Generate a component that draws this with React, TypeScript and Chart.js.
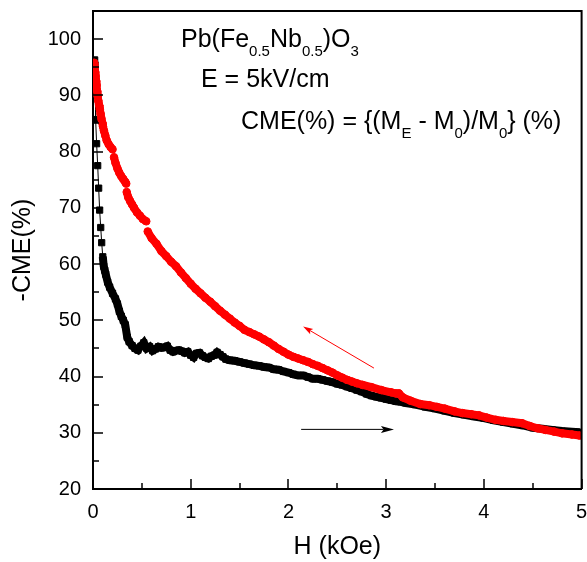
import { useEffect, useRef } from 'react';
import { Chart, registerables } from 'chart.js';

Chart.register(...registerables);

const FONT = '"Liberation Sans", Arial, Helvetica, sans-serif';

// Axis ticks
const xTicks = [0, 1, 2, 3, 4, 5];
const xMinorTicks = [0.5, 1.5, 2.5, 3.5, 4.5];
const yTicks = [20, 30, 40, 50, 60, 70, 80, 90, 100];
const yMinorTicks = [25, 35, 45, 55, 65, 75, 85, 95];

// Increasing-field sweep (black squares)
const blackH = [
  0.017, 0.021, 0.027, 0.037, 0.048, 0.058, 0.068, 0.079, 0.089, 0.100,
  0.110, 0.120, 0.130, 0.150, 0.170, 0.200, 0.230, 0.250, 0.270, 0.290,
  0.310, 0.330, 0.350, 0.370, 0.400, 0.430, 0.460, 0.490, 0.520, 0.550,
  0.580, 0.610, 0.640, 0.670, 0.700, 0.730, 0.760, 0.790, 0.820, 0.850,
  0.880, 0.910, 0.940, 0.970, 1.000, 1.030, 1.060, 1.090, 1.120, 1.150,
  1.180, 1.210, 1.240, 1.270, 1.300, 1.330, 1.360, 1.400, 1.450, 1.500,
  1.550, 1.600, 1.650, 1.700, 1.750, 1.800, 1.850, 1.900, 1.950, 2.000,
  2.050, 2.100, 2.150, 2.200, 2.250, 2.300, 2.350, 2.400, 2.450, 2.500,
  2.550, 2.600, 2.650, 2.700, 2.750, 2.800, 2.850, 2.900, 2.950, 3.000,
  3.050, 3.100, 3.150, 3.200, 3.300, 3.400, 3.500, 3.600, 3.700, 3.800,
  3.900, 4.000, 4.100, 4.200, 4.300, 4.400, 4.500, 4.600, 4.700, 4.800,
  4.900, 4.980,
];
const blackCME = [
  96.3, 95.4, 85.7, 81.4, 77.5, 73.5, 69.6, 66.5, 63.8, 61.3,
  59.6, 58.9, 58.2, 56.8, 55.9, 54.8, 53.8, 52.9, 51.6, 50.7,
  50.0, 49.2, 47.0, 46.2, 45.5, 45.0, 44.7, 45.4, 46.0, 45.0,
  45.3, 44.6, 44.9, 45.3, 45.1, 45.2, 45.4, 44.7, 44.4, 44.6,
  44.7, 44.5, 44.2, 44.4, 43.8, 43.4, 44.1, 44.2, 43.7, 43.4,
  43.2, 43.6, 43.8, 44.3, 43.9, 43.5, 43.1, 42.9, 42.8, 42.6,
  42.4, 42.2, 42.0, 41.9, 41.7, 41.6, 41.3, 41.2, 40.9, 40.7,
  40.4, 40.2, 40.2, 39.9, 39.6, 39.6, 39.4, 39.2, 39.0, 38.7,
  38.5, 38.2, 37.9, 37.6, 37.3, 36.9, 36.6, 36.4, 36.2, 36.0,
  35.8, 35.6, 35.5, 35.3, 35.0, 34.6, 34.3, 33.9, 33.5, 33.2,
  32.9, 32.6, 32.2, 31.9, 31.6, 31.3, 30.9, 30.7, 30.5, 30.3,
  30.2, 30.1,
];

// Decreasing-field sweep (red circles)
const redH = [
  0.012, 0.017, 0.022, 0.027, 0.032, 0.037, 0.042, 0.048, 0.055, 0.062,
  0.070, 0.078, 0.086, 0.094, 0.102, 0.112, 0.125, 0.140, 0.160, 0.180,
  0.200, 0.215, 0.230, 0.250, 0.270, 0.290, 0.310, 0.330, 0.340, 0.345,
  0.360, 0.380, 0.400, 0.420, 0.450, 0.480, 0.510, 0.545, 0.560, 0.600,
  0.650, 0.700, 0.750, 0.800, 0.850, 0.900, 0.950, 1.000, 1.050, 1.100,
  1.150, 1.200, 1.250, 1.300, 1.350, 1.400, 1.450, 1.500, 1.550, 1.600,
  1.650, 1.700, 1.750, 1.800, 1.850, 1.900, 1.950, 2.000, 2.050, 2.100,
  2.150, 2.200, 2.250, 2.300, 2.350, 2.400, 2.450, 2.500, 2.550, 2.600,
  2.650, 2.700, 2.760, 2.850, 2.950, 3.050, 3.100, 3.130, 3.170, 3.250,
  3.350, 3.440, 3.520, 3.600, 3.700, 3.780, 3.870, 3.950, 4.030, 4.120,
  4.200, 4.290, 4.390, 4.470, 4.550, 4.630, 4.720, 4.800, 4.900, 4.980,
];
const redCME = [
  95.8, 95.0, 94.2, 93.4, 92.6, 91.8, 90.8, 89.9, 89.0, 88.3,
  87.5, 86.7, 85.9, 85.2, 84.5, 83.7, 82.9, 82.0, 81.3, 80.8,
  80.4, 79.0, 78.0, 77.0, 76.2, 75.6, 75.1, 74.6, 74.3, 72.8,
  71.9, 71.2, 70.6, 70.0, 69.2, 68.6, 68.0, 67.6, 65.8, 64.6,
  63.6, 62.3, 61.4, 60.4, 59.6, 58.5, 57.5, 56.5, 55.6, 54.8,
  54.0, 53.3, 52.5, 51.7, 51.0, 50.3, 49.6, 49.0, 48.3, 47.9,
  47.5, 47.1, 46.6, 46.1, 45.5, 44.9, 44.4, 43.9, 43.5, 43.2,
  42.9, 42.6, 42.2, 41.9, 41.5, 41.1, 40.7, 40.2, 39.8, 39.4,
  39.1, 38.8, 38.5, 38.1, 37.6, 37.2, 37.0, 37.0, 36.3, 35.7,
  35.1, 34.9, 34.6, 34.3, 33.8, 33.5, 33.3, 33.1, 32.7, 32.3,
  32.1, 31.9, 31.7, 31.2, 30.8, 30.5, 30.2, 29.9, 29.7, 29.5,
];

// Sweep-direction arrows, in data coordinates [H, -CME]
const redArrowFrom = [2.875, 41.5];
const redArrowTo = [2.15, 48.9];
const blackArrowFrom = [2.13, 30.6];
const blackArrowTo = [3.08, 30.6];

// Annotation text: [text, isSubscript]
const line1: [string, boolean][] = [['Pb(Fe', false], ['0.5', true], ['Nb', false], ['0.5', true], [')O', false], ['3', true]];
const line2: [string, boolean][] = [['E = 5kV/cm', false]];
const line3: [string, boolean][] = [
  ['CME(%) = {(M', false], ['E', true], [' - M', false], ['0', true], [')/M', false], ['0', true], ['} (%)', false],
];

function drawRich(ctx: CanvasRenderingContext2D, x: number, y: number, parts: [string, boolean][]) {
  let cx = x;
  ctx.textBaseline = 'alphabetic';
  ctx.textAlign = 'left';
  ctx.fillStyle = '#000';
  for (const [t, sub] of parts) {
    ctx.font = sub ? `15px ${FONT}` : `25px ${FONT}`;
    ctx.fillText(t, cx, sub ? y + 9.5 : y);
    cx += ctx.measureText(t).width;
  }
}

function drawArrow(ctx: CanvasRenderingContext2D, x0: number, y0: number, x1: number, y1: number, color: string, headLen: number, headHalf: number) {
  const ang = Math.atan2(y1 - y0, x1 - x0);
  ctx.save();
  ctx.strokeStyle = color;
  ctx.fillStyle = color;
  ctx.lineWidth = 1;
  ctx.beginPath();
  ctx.moveTo(x0, y0);
  ctx.lineTo(x1 - Math.cos(ang) * headLen * 0.8, y1 - Math.sin(ang) * headLen * 0.8);
  ctx.stroke();
  ctx.beginPath();
  ctx.moveTo(x1, y1);
  ctx.lineTo(x1 - Math.cos(ang) * headLen - Math.sin(ang) * headHalf, y1 - Math.sin(ang) * headLen + Math.cos(ang) * headHalf);
  ctx.lineTo(x1 - Math.cos(ang) * headLen * 0.8, y1 - Math.sin(ang) * headLen * 0.8);
  ctx.lineTo(x1 - Math.cos(ang) * headLen + Math.sin(ang) * headHalf, y1 - Math.sin(ang) * headLen - Math.cos(ang) * headHalf);
  ctx.closePath();
  ctx.fill();
  ctx.restore();
}

const decorPlugin = {
  id: 'decor',
  afterDatasetsDraw(chart: any) {
    const { ctx, chartArea, scales } = chart;
    const xs = scales.x;
    const ys = scales.y;
    const { left, right, top, bottom } = chartArea;
    ctx.save();
    // frame
    ctx.strokeStyle = '#000';
    ctx.lineWidth = 2;
    ctx.beginPath();
    ctx.moveTo(left, top);
    ctx.lineTo(right, top);
    ctx.lineTo(right, bottom);
    ctx.stroke();
    // inward ticks
    ctx.lineWidth = 1.5;
    ctx.beginPath();
    for (const v of xTicks) {
      const px = Math.round(xs.getPixelForValue(v));
      ctx.moveTo(px, bottom);
      ctx.lineTo(px, bottom - 10);
    }
    for (const v of xMinorTicks) {
      const px = Math.round(xs.getPixelForValue(v));
      ctx.moveTo(px, bottom);
      ctx.lineTo(px, bottom - 6);
    }
    for (const v of yTicks) {
      const py = Math.round(ys.getPixelForValue(v));
      ctx.moveTo(left, py);
      ctx.lineTo(left + 10, py);
    }
    for (const v of yMinorTicks) {
      const py = Math.round(ys.getPixelForValue(v));
      ctx.moveTo(left, py);
      ctx.lineTo(left + 6, py);
    }
    ctx.stroke();
    ctx.restore();

    // arrows
    drawArrow(ctx, xs.getPixelForValue(redArrowFrom[0]), ys.getPixelForValue(redArrowFrom[1]),
      xs.getPixelForValue(redArrowTo[0]), ys.getPixelForValue(redArrowTo[1]), '#ff0000', 10, 3);
    drawArrow(ctx, xs.getPixelForValue(blackArrowFrom[0]), ys.getPixelForValue(blackArrowFrom[1]),
      xs.getPixelForValue(blackArrowTo[0]), ys.getPixelForValue(blackArrowTo[1]), '#000000', 13, 3.5);

    // annotation text
    ctx.save();
    drawRich(ctx, left + 88, top + 35.5, line1);
    drawRich(ctx, left + 108, top + 75.5, line2);
    drawRich(ctx, left + 148, top + 117.5, line3);
    ctx.restore();
  },
};

export default function App() {
  const ref = useRef<HTMLCanvasElement | null>(null);

  useEffect(() => {
    const canvas = ref.current;
    if (!canvas) return;
    const redData = redH.map((h, i) => ({ x: h, y: redCME[i] }));
    const blackData = blackH.map((h, i) => ({ x: h, y: blackCME[i] }));

    const chart = new Chart(canvas, {
      type: 'scatter',
      data: {
        datasets: [
          {
            label: 'H decreasing',
            data: redData,
            showLine: true,
            borderColor: '#ff0000',
            backgroundColor: '#ff0000',
            pointBackgroundColor: '#ff0000',
            pointBorderColor: '#ff0000',
            pointStyle: 'circle',
            pointRadius: 3.8,
            pointBorderWidth: 1,
            borderWidth: 8,
            order: 0,
            segment: {
              borderColor: (c: any) =>
                Math.abs(c.p1.parsed.y - c.p0.parsed.y) > 1.4 ? 'rgba(0,0,0,0)' : undefined,
            },
          } as any,
          {
            label: 'H increasing',
            data: blackData,
            showLine: true,
            borderColor: '#000000',
            backgroundColor: '#000000',
            pointBackgroundColor: '#000000',
            pointBorderColor: '#000000',
            pointStyle: 'rect',
            pointRadius: 4.4,
            pointBorderWidth: 1,
            borderWidth: 1,
            order: 1,
            segment: {
              borderWidth: (c: any) => (c.p0.parsed.x >= 0.1 ? 8 : 1),
            },
          } as any,
        ],
      },
      options: {
        animation: false,
        responsive: false,
        maintainAspectRatio: false,
        events: [],
        layout: { padding: { left: 0, right: 4, top: 11, bottom: 0 } },
        plugins: {
          legend: { display: false },
          tooltip: { enabled: false },
          title: { display: false },
        },
        scales: {
          x: {
            type: 'linear',
            min: 0,
            max: 5,
            afterBuildTicks: (s: any) => {
              s.ticks = xTicks.map((v) => ({ value: v }));
            },
            afterFit: (s: any) => {
              s.height = 73;
              s.paddingLeft = 0;
              s.paddingRight = 0;
            },
            grid: { display: false, drawTicks: false },
            border: { display: true, color: '#000', width: 2 },
            ticks: {
              color: '#000',
              font: { family: FONT, size: 20 },
              padding: 11,
              maxRotation: 0,
              autoSkip: false,
            },
            title: {
              display: true,
              text: 'H (kOe)',
              color: '#000',
              font: { family: FONT, size: 25 },
              padding: { top: 0, bottom: 0 },
            },
          },
          y: {
            type: 'linear',
            min: 20,
            max: 105,
            afterBuildTicks: (s: any) => {
              s.ticks = yTicks.map((v) => ({ value: v }));
            },
            afterFit: (s: any) => {
              s.width = 93;
              s.paddingTop = 0;
              s.paddingBottom = 0;
            },
            grid: { display: false, drawTicks: false },
            border: { display: true, color: '#000', width: 2 },
            ticks: {
              color: '#000',
              font: { family: FONT, size: 20 },
              padding: 12,
              autoSkip: false,
            },
            title: {
              display: true,
              text: '-CME(%)',
              color: '#000',
              font: { family: FONT, size: 25 },
              padding: { top: 8, bottom: 0 },
            },
          },
        },
      },
      plugins: [decorPlugin],
    } as any);

    return () => chart.destroy();
  }, []);

  return (
    <div style={{ position: 'absolute', left: 0, top: 0, width: 587, height: 562, background: '#fff' }}>
      <canvas ref={ref} width={587} height={562} style={{ display: 'block', width: 587, height: 562 }} />
    </div>
  );
}
